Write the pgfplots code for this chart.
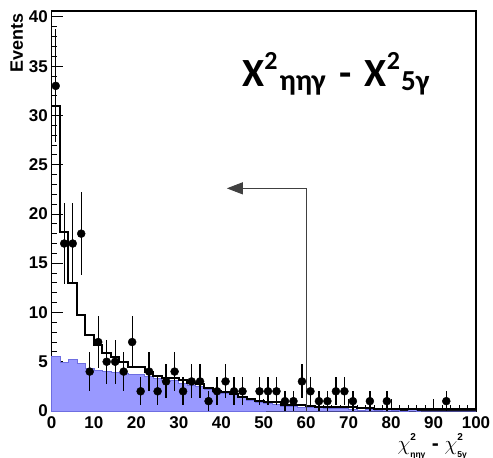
\documentclass[border=0pt]{standalone}
\usepackage{pgfplots}
\pgfplotsset{compat=1.18}
\usepackage{pgfplotstable}
\usepackage{fontspec}
\setmainfont{Liberation Sans}
\newfontfamily\carlito{Carlito}
\usetikzlibrary{arrows.meta}
\definecolor{bkgblue}{RGB}{153,153,255}
\definecolor{bkgedge}{RGB}{110,110,225}

% background component (filled), bin left edges
\pgfplotstableread{
x y
0 5.5
2 4.9
4 5.2
6 4.8
8 4.3
10 4.15
12 4.0
14 3.95
16 3.8
18 3.7
20 3.7
22 3.5
24 3.3
26 3.1
28 3.1
30 2.8
32 2.6
34 2.5
36 2.2
38 1.9
40 1.8
42 1.65
44 1.4
46 1.1
48 0.9
50 0.8
52 0.7
54 0.5
56 0.45
58 0.35
60 0.35
62 0.4
64 0.3
66 0.3
68 0.25
70 0.2
72 0.1
74 0.15
76 0.05
78 0.15
80 0.05
82 0
84 0.12
86 0
88 0
90 0
92 0
94 0
96 0
98 0
100 0
}\bkg

% total MC (black line)
\pgfplotstableread{
x y
0 31
2 18.2
4 13.0
6 9.7
8 7.7
10 6.7
12 5.9
14 5.45
16 5.0
18 4.5
20 4.5
22 4.0
24 3.6
26 3.4
28 3.3
30 3.1
32 2.8
34 2.7
36 2.3
38 2.0
40 1.9
42 1.7
44 1.4
46 1.2
48 1.0
50 0.95
52 0.9
54 0.65
56 0.6
58 0.6
60 0.5
62 0.45
64 0.45
66 0.45
68 0.45
70 0.4
72 0.3
74 0.3
76 0.25
78 0.25
80 0.25
82 0.2
84 0.25
86 0.2
88 0.2
90 0.2
92 0.2
94 0.2
96 0.2
98 0.2
100 0.2
}\tot

% data points with sqrt(N) errors
\pgfplotstableread{
x y e
1 33 5.74
3 17 4.12
5 17 4.12
7 18 4.24
9 4 2
11 7 2.65
13 5 2.24
15 5 2.24
17 4 2
19 7 2.65
21 2 1.41
23 4 2
25 2 1.41
27 3 1.73
29 4 2
31 2 1.41
33 3 1.73
35 3 1.73
37 1 1
39 2 1.41
41 3 1.73
43 2 1.41
45 2 1.41
49 2 1.41
51 2 1.41
53 2 1.41
55 1 1
57 1 1
59 3 1.73
61 2 1.41
63 1 1
65 1 1
67 2 1.41
69 2 1.41
71 1 1
75 1 1
79 1 1
93 1 1
}\data

\begin{document}
\begin{tikzpicture}
\path[use as bounding box] (-51.5pt,-47pt) rectangle (441.5pt,411pt);
\begin{axis}[
  scale only axis, width=424.5pt, height=400pt,
  xmin=0, xmax=100, ymin=0, ymax=40.6,
  axis line style={line width=1.1pt},
  tick align=inside, tick pos=left,
  xtick distance=10, ytick distance=5,
  minor x tick num=4, minor y tick num=4,
  major tick length=12pt, minor tick length=6pt,
  tick style={black, line width=0.9pt},
  /pgf/number format/assume math mode=true,
  tick label style={font=\bfseries\fontsize{17}{17}\selectfont},
  xticklabel style={anchor=north, inner sep=0pt, yshift=-5pt},
  yticklabel style={anchor=east, inner sep=0pt, xshift=-3.5pt},
  clip=false,
]
\addplot[const plot, fill=bkgblue, draw=bkgedge, line width=0.8pt] table {\bkg} \closedcycle;
\addplot[const plot, black, line width=2pt] table {\tot};
\draw[line width=1pt, black!75, -{Triangle[length=16pt,width=12pt]}]
  (axis cs:60,0) -- (axis cs:60,22.6) -- (axis cs:41.3,22.6);
\addplot[only marks, mark=*, mark size=4pt, black,
  error bars/.cd, y dir=both, y explicit, error mark=none,
  error bar style={line width=1.3pt, black}]
  table[x=x, y=y, y error=e] {\data};

\node[rotate=90, anchor=base east, inner sep=0pt, font=\bfseries\fontsize{18}{18}\selectfont]
  at ([xshift=-28.5pt,yshift=-2pt]rel axis cs:0,1) {Events};

\node[anchor=base west, inner sep=0pt, font=\carlito\bfseries\fontsize{40}{40}\selectfont]
  at (axis cs:44.9,32.9)
  {Χ\raisebox{17pt}{\fontsize{26}{26}\selectfont 2}\hspace{2pt}\raisebox{-4pt}{\fontsize{30}{30}\selectfont ηηγ}\hspace{14pt}-\hspace{13pt}Χ\raisebox{17pt}{\fontsize{26}{26}\selectfont 2}\hspace{1pt}\raisebox{-4pt}{\fontsize{29}{29}\selectfont 5γ}};

\node[anchor=base east, inner sep=0pt, font=\bfseries\fontsize{21}{21}\selectfont]
  at (axis cs:98,-3.96)
  {$\chi^{\mbox{\raisebox{2pt}{\fontsize{10}{10}\selectfont\bfseries 2}}}_{\mbox{\raisebox{-2.5pt}{\fontsize{8.5}{8.5}\selectfont ηηγ}}}$ - $\chi^{\mbox{\raisebox{2pt}{\fontsize{10}{10}\selectfont\bfseries 2}}}_{\mbox{\raisebox{-2.5pt}{\fontsize{8.5}{8.5}\selectfont 5γ}}}$};
\end{axis}
\end{tikzpicture}
\end{document}
